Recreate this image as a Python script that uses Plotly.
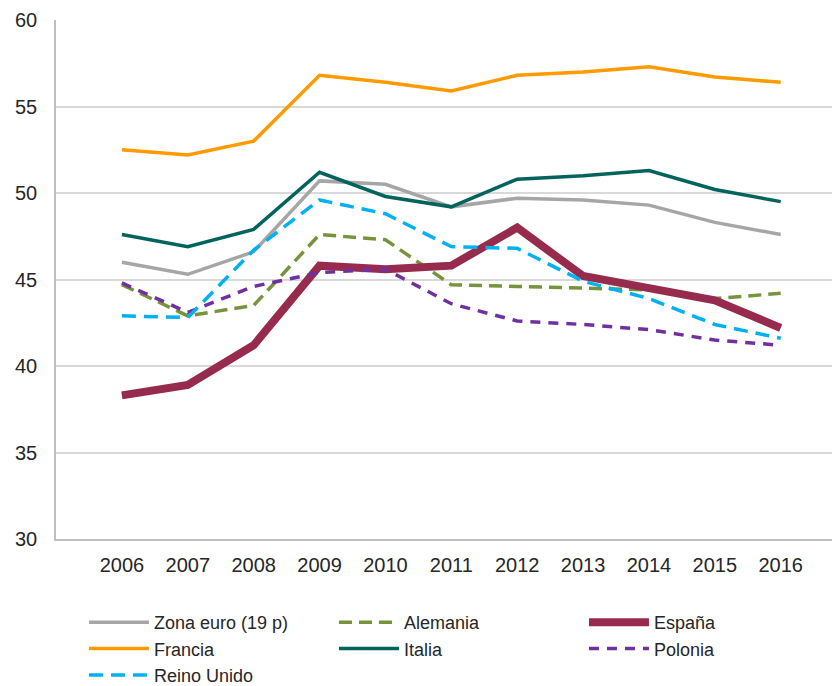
import plotly.graph_objects as go

years = [2006, 2007, 2008, 2009, 2010, 2011, 2012, 2013, 2014, 2015, 2016]

zona_euro = [46.0, 45.3, 46.6, 50.7, 50.5, 49.2, 49.7, 49.6, 49.3, 48.3, 47.6]
alemania = [44.7, 42.9, 43.5, 47.6, 47.3, 44.7, 44.6, 44.5, 44.4, 43.9, 44.2]
espana = [38.3, 38.9, 41.2, 45.8, 45.6, 45.8, 48.0, 45.2, 44.5, 43.8, 42.2]
francia = [52.5, 52.2, 53.0, 56.8, 56.4, 55.9, 56.8, 57.0, 57.3, 56.7, 56.4]
italia = [47.6, 46.9, 47.9, 51.2, 49.8, 49.2, 50.8, 51.0, 51.3, 50.2, 49.5]
polonia = [44.8, 43.1, 44.6, 45.4, 45.6, 43.6, 42.6, 42.4, 42.1, 41.5, 41.2]
reino_unido = [42.9, 42.8, 46.7, 49.6, 48.8, 46.9, 46.8, 44.9, 43.9, 42.4, 41.6]

y_ticks = [30, 35, 40, 45, 50, 55, 60]

series = [
    ("Zona euro (19 p)", zona_euro, "#A6A6A6", 3.5, "solid"),
    ("Alemania", alemania, "#77933C", 3.5, "13px,7px"),
    ("España", espana, "#962B4D", 8, "solid"),
    ("Francia", francia, "#FF9A00", 3.5, "solid"),
    ("Italia", italia, "#00645C", 3.5, "solid"),
    ("Polonia", polonia, "#7030A0", 3.5, "10px,8px"),
    ("Reino Unido", reino_unido, "#00B0F0", 3.5, "14px,8px"),
]

font_family = "Liberation Sans, Arial, sans-serif"

fig = go.Figure()
for name, vals, color, width, dash in series:
    fig.add_trace(go.Scatter(
        x=years, y=vals, name=name, mode="lines",
        line=dict(color=color, width=width, dash=dash),
    ))

fig.update_layout(
    width=832, height=686,
    margin=dict(l=48, r=0, t=12, b=155),
    paper_bgcolor="white", plot_bgcolor="white",
    font=dict(family=font_family, size=20, color="#262626"),
    showlegend=True,
    legend=dict(
        orientation="h", x=0.0913, y=0.0, xanchor="left", yanchor="bottom",
        xref="container", yref="container",
        entrywidth=175, entrywidthmode="pixels",
        font=dict(family=font_family, size=18, color="#262626"),
        itemwidth=60, tracegroupgap=0,
    ),
)

fig.update_xaxes(
    range=[2005, 2016.9], automargin=False,
    tickmode="array", tickvals=years, ticktext=[str(y) for y in years],
    showgrid=False, zeroline=False,
    showline=True, linecolor="#BFBFBF", linewidth=1.5,
    ticks="", ticklabelstandoff=7,
)
fig.update_yaxes(
    range=[30, 60], automargin=False,
    tickmode="array", tickvals=y_ticks,
    showgrid=True, gridcolor="#D9D9D9", gridwidth=1.5,
    zeroline=False,
    showline=True, linecolor="#BFBFBF", linewidth=1.5,
    ticks="", ticklabelstandoff=13,
)

fig.write_html("out.html")
